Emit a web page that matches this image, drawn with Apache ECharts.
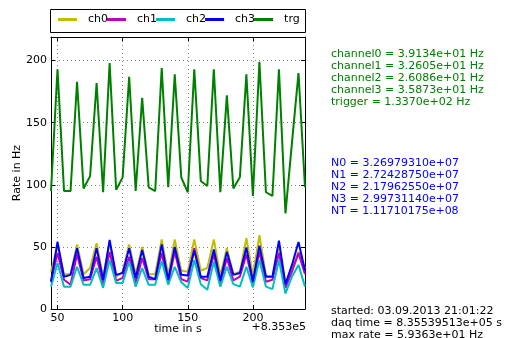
<!DOCTYPE html>
<html>
<head>
<meta charset="utf-8">
<script src="https://cdn.jsdelivr.net/npm/echarts@6/dist/echarts.min.js"></script>
<style>
html, body { margin: 0; padding: 0; background: #fff; }
#main { width: 509px; height: 338px; }
</style>
</head>
<body>
<div id="main"></div>
<script>
// time offsets in s (axis offset +8.353e5)
var times = [45, 50, 55, 60, 65, 70, 75, 80, 85, 90, 95, 100, 105, 110, 115, 120, 125, 130, 135, 140,
    145, 150, 155, 160, 165, 170, 175, 180, 185, 190, 195, 200, 205, 210, 215, 220, 225, 230, 235, 240];

var ch0 = [30, 51, 28, 28, 52, 28, 33, 53, 26, 53, 26, 30, 52, 28, 50, 28, 28, 56, 27, 56,
    31, 30, 56, 31, 33, 56, 27, 49, 28, 30, 57, 27, 59.4, 27, 26, 50, 20, 33, 46, 33];
var ch1 = [22, 45, 23.5, 19.5, 44, 23, 24, 42, 20, 46, 22.7, 25, 42, 21, 41, 24, 24, 45, 21, 46,
    24, 22, 49, 25, 23, 44, 20, 41, 23, 26, 44, 21, 46, 22, 23.5, 45, 17, 30, 45, 28];
var ch2 = [18, 37, 18, 18, 34, 19.5, 19.5, 33, 17, 39.5, 21, 21, 38, 18, 33, 19.5, 19.5, 38.5, 19.5, 34,
    21.5, 17, 39.5, 20, 15.5, 38, 18, 34, 20, 18, 34, 17.4, 39.5, 18, 16, 39.5, 12.5, 26, 35.5, 18];
var ch3 = [22, 54, 26, 27.5, 49, 25, 26, 49, 23.5, 55.6, 27.5, 29, 49, 25, 47.6, 26, 24, 52, 23.5, 50,
    27.5, 27, 47, 26, 26, 48, 23, 46, 27.5, 29, 49.5, 22, 51, 26, 26, 55, 20, 35.5, 54, 31];
var trg = [95, 193, 95, 95, 183, 97, 107, 182, 94, 198, 96, 106, 187, 95, 170, 98, 95, 194, 98, 189,
    106, 94, 193, 103, 99, 193, 94, 172, 97, 106, 189, 91, 199, 94, 91, 193, 77, 134, 190, 98];

var seriesNames = ['ch0', 'ch1', 'ch2', 'ch3', 'trg'];
var seriesColors = ['#bfbf00', '#bf00bf', '#00bfbf', '#0000ff', '#008000'];

var rateLines = [
    'channel0 = 3.9134e+01 Hz',
    'channel1 = 3.2605e+01 Hz',
    'channel2 = 2.6086e+01 Hz',
    'channel3 = 3.5873e+01 Hz',
    'trigger = 1.3370e+02 Hz'
];
var countLines = [
    'N0 = 3.26979310e+07',
    'N1 = 2.72428750e+07',
    'N2 = 2.17962550e+07',
    'N3 = 2.99731140e+07',
    'NT = 1.11710175e+08'
];
var infoLines = [
    'started: 03.09.2013 21:01:22',
    'daq time = 8.35539513e+05 s',
    'max rate = 5.9363e+01 Hz'
];

var font = 'DejaVu Sans';

function pairs(values) {
    return times.map(function (t, i) {
        return [t, values[i]];
    });
}

function frameAxis(extra) {
    var axis = {
        type: 'value',
        axisLine: { show: true, onZero: false, lineStyle: { color: '#000', width: 1 } },
        axisTick: { show: true, inside: true, length: 4, lineStyle: { color: '#000' } },
        axisLabel: { show: false },
        splitLine: { show: false }
    };
    return Object.assign(axis, extra);
}

var chart = echarts.init(document.getElementById('main'));

var allSeries = [ch0, ch1, ch2, ch3, trg].map(function (values, i) {
    return {
        name: seriesNames[i],
        type: 'line',
        data: pairs(values),
        showSymbol: false,
        symbol: 'none',
        color: seriesColors[i],
        lineStyle: { width: 2, color: seriesColors[i] },
        z: 2 + i
    };
});

var option = {
    animation: false,
    textStyle: { fontFamily: font },
    grid: { left: 51, top: 37, right: 204, bottom: 29 },
    legend: {
        data: seriesNames,
        left: 58,
        top: 14,
        padding: 0,
        icon: 'rect',
        itemWidth: 19,
        itemHeight: 3,
        itemGap: -1,
        textStyle: { fontSize: 11, color: '#000', fontFamily: font, padding: [0, 0, 0, 6] }
    },
    xAxis: [
        frameAxis({
            min: 45, max: 240, splitNumber: 4,
            axisLabel: { show: true, showMinLabel: false, showMaxLabel: false, color: '#000', fontSize: 11, margin: 4, fontFamily: font },
            splitLine: { show: true, lineStyle: { color: '#888', type: [1, 3] } }
        }),
        frameAxis({ min: 45, max: 240, splitNumber: 4, position: 'top' })
    ],
    yAxis: [
        frameAxis({
            min: 0, max: 219, interval: 50,
            axisLabel: { show: true, showMaxLabel: false, color: '#000', fontSize: 11, margin: 4, fontFamily: font },
            splitLine: { show: true, lineStyle: { color: '#888', type: [1, 3] } }
        }),
        frameAxis({ min: 0, max: 219, interval: 50, position: 'right' })
    ],
    graphic: [
        {
            type: 'rect',
            shape: { x: 50.5, y: 9.5, width: 255, height: 23 },
            style: { fill: null, stroke: '#000', lineWidth: 1 },
            silent: true
        },
        {
            type: 'text', x: 17, y: 173, rotation: Math.PI / 2,
            style: { text: 'Rate in Hz', font: '11px ' + font, fill: '#000', align: 'center', verticalAlign: 'middle' }
        },
        {
            type: 'text', x: 178, y: 329,
            style: { text: 'time in s', font: '11px ' + font, fill: '#000', align: 'center', verticalAlign: 'middle' }
        },
        {
            type: 'text', x: 306, y: 327.5,
            style: { text: '+8.353e5', font: '11px ' + font, fill: '#000', align: 'right', verticalAlign: 'middle' }
        },
        {
            type: 'text', x: 331, y: 48,
            style: { text: rateLines.join('\n'), font: '11px ' + font, fill: '#008000', lineHeight: 12, verticalAlign: 'top' }
        },
        {
            type: 'text', x: 331, y: 157,
            style: { text: countLines.join('\n'), font: '11px ' + font, fill: '#0000ff', lineHeight: 12, verticalAlign: 'top' }
        },
        {
            type: 'text', x: 331, y: 305,
            style: { text: infoLines.join('\n'), font: '11px ' + font, fill: '#000', lineHeight: 12, verticalAlign: 'top' }
        }
    ],
    series: allSeries
};

chart.setOption(option);
</script>
</body>
</html>
